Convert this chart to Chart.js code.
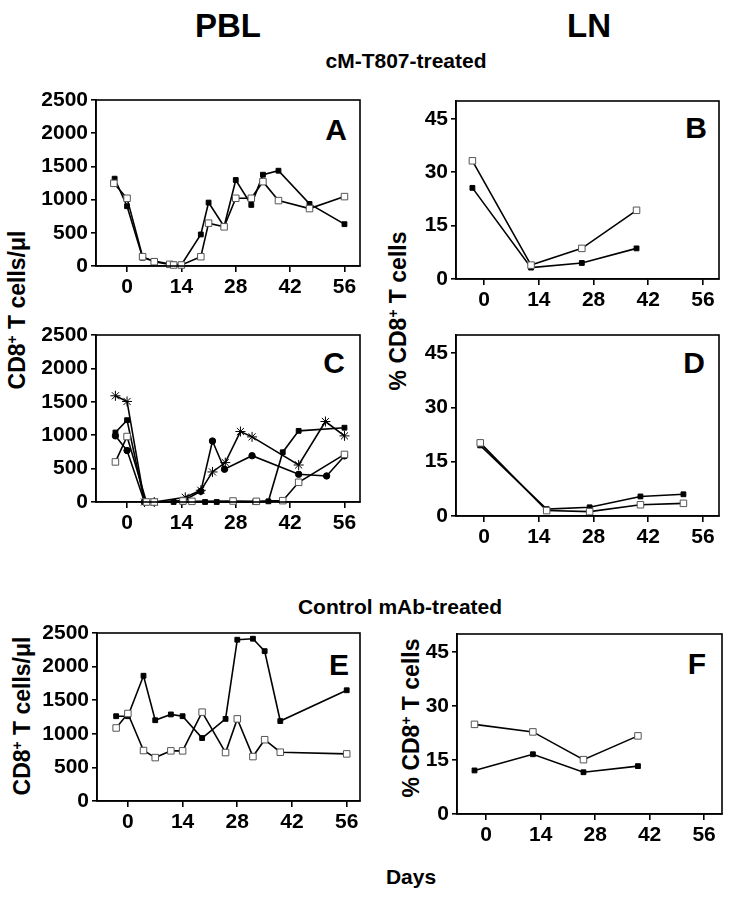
<!DOCTYPE html>
<html>
<head>
<meta charset="utf-8">
<script src="https://cdn.jsdelivr.net/npm/chart.js@4/dist/chart.umd.min.js"></script>
<style>
  html, body { margin:0; padding:0; background:#fff; }
  #page { position:relative; width:729px; height:900px; overflow:hidden; background:#fff; font-family:"Liberation Sans", Arial, sans-serif; color:#000; }
  canvas { position:absolute; }
  .t { position:absolute; font-weight:bold; white-space:nowrap; line-height:1; }
  .c { transform:translate(-50%,-50%); }
  .r { transform:translate(-50%,-50%) rotate(-90deg); }
  sup { font-size:0.6em; vertical-align:0.55em; line-height:0; }
</style>
</head>
<body>
<div id="page">
  <div class="t c" style="left:228px;top:25px;font-size:33px;">PBL</div>
  <div class="t c" style="left:589px;top:25px;font-size:33px;">LN</div>
  <div class="t c" style="left:406px;top:60px;font-size:21px;">cM-T807-treated</div>
  <div class="t c" style="left:400px;top:606px;font-size:21px;">Control mAb-treated</div>
  <div class="t c" style="left:411px;top:876px;font-size:21px;">Days</div>
  <div class="t r" style="left:17px;top:310px;font-size:23px;">CD8<sup>+</sup> T cells/μl</div>
  <div class="t r" style="left:398px;top:311px;font-size:23px;">% CD8<sup>+</sup> T cells</div>
  <div class="t r" style="left:22px;top:716px;font-size:23px;">CD8<sup>+</sup> T cells/μl</div>
  <div class="t r" style="left:411px;top:718px;font-size:23px;">% CD8<sup>+</sup> T cells</div>
  <div class="t c" style="left:336px;top:130px;font-size:30px;">A</div>
  <div class="t c" style="left:696px;top:128px;font-size:30px;">B</div>
  <div class="t c" style="left:334px;top:363px;font-size:30px;">C</div>
  <div class="t c" style="left:694px;top:363px;font-size:30px;">D</div>
  <div class="t c" style="left:339px;top:665px;font-size:30px;">E</div>
  <div class="t c" style="left:697px;top:664px;font-size:30px;">F</div>
</div>
<script>
// ---- tick labels ----
const xTickVals = [0, 14, 28, 42, 56];
const cellTicks = [0, 500, 1000, 1500, 2000, 2500];
const pctTicks = [0, 15, 30, 45];

// ---- Panel A (PBL, cM-T807) ----
const aFilledDays = [-3.2, 0, 4, 7, 11, 12, 14, 19, 21, 25, 28, 32, 35, 39, 47, 56];
const aFilledVals = [1315, 900, 125, 75, 30, 20, 20, 475, 955, 595, 1295, 920, 1375, 1435, 935, 630];
const aOpenDays = [-3.4, 0, 4, 7, 11, 12, 14, 19, 21, 25, 28, 32, 35, 39, 47, 56];
const aOpenVals = [1245, 1020, 140, 65, 25, 15, 15, 140, 645, 590, 1020, 1020, 1270, 985, 865, 1045];

// ---- Panel B (LN, cM-T807) ----
const bDays = [-3, 12, 25, 39];
const bOpenVals = [33.2, 3.9, 8.6, 19.3];
const bFilledVals = [25.6, 3.2, 4.5, 8.6];

// ---- Panel C (PBL, cM-T807) ----
const cStarDays = [-3, 0, 4.5, 7, 15, 19, 22, 25.3, 29.2, 32.2, 44.2, 51.1, 56];
const cStarVals = [1590, 1505, 0, 0, 70, 175, 450, 590, 1055, 975, 554, 1205, 990];
const cFilledDays = [-3, 0, 4.5, 7, 12, 14.4, 20.1, 23.1, 33, 36.4, 40.1, 44.2, 56];
const cFilledVals = [1040, 1225, 0, 0, 0, 0, 0, 0, 0, 10, 745, 1065, 1112];
const cCircleDays = [-3, 0, 4.5, 7, 14.5, 19, 22, 25.1, 32.2, 44.2, 51.4, 56];
const cCircleVals = [990, 770, 0, 0, 20, 160, 913, 490, 693, 415, 390, 690];
const cOpenDays = [-3, 0, 5, 7, 14.4, 16.7, 27.3, 33.3, 40.1, 44.2, 56];
const cOpenVals = [600, 980, 0, 0, 15, 10, 15, 10, 20, 295, 712];

// ---- Panel D (LN, cM-T807) ----
const dDays = [-1, 16, 27, 40, 51];
const dOpenVals = [20.2, 1.5, 1.2, 3.1, 3.5];
const dFilledVals = [19.5, 1.9, 2.4, 5.4, 6.0];

// ---- Panel E (PBL, control) ----
const eDays = [-3, 0, 4, 7, 11, 14, 19, 25, 28, 32, 35, 39, 56];
const eFilledVals = [1262, 1262, 1864, 1202, 1288, 1262, 937, 1222, 2400, 2415, 2230, 1190, 1648];
const eOpenVals = [1087, 1302, 751, 646, 746, 746, 1322, 721, 1222, 661, 912, 726, 701];

// ---- Panel F (LN, control) ----
const fDays = [-3, 12, 25, 39];
const fOpenVals = [24.9, 22.8, 15.1, 21.7];
const fFilledVals = [12.1, 16.6, 11.6, 13.3];

const FONT = '"Liberation Sans", Arial, sans-serif';

function pts(xs, ys) { return xs.map((x, i) => ({ x: x, y: ys[i] })); }

function series(xs, ys, kind) {
  const base = { data: pts(xs, ys), borderColor: '#000', borderWidth: 1.6, clip: false, tension: 0 };
  if (kind === 'filled') return Object.assign(base, { pointStyle: 'rect', pointRadius: 3.4, pointBackgroundColor: '#000', pointBorderColor: '#000', pointBorderWidth: 1 });
  if (kind === 'open') return Object.assign(base, { pointStyle: 'rect', pointRadius: 4.6, pointBackgroundColor: '#fff', pointBorderColor: '#555', pointBorderWidth: 1 });
  if (kind === 'circle') return Object.assign(base, { pointStyle: 'circle', pointRadius: 3.2, pointBackgroundColor: '#000', pointBorderColor: '#000', pointBorderWidth: 1 });
  if (kind === 'star') return Object.assign(base, { pointStyle: 'star', pointRadius: 5, pointBackgroundColor: '#000', pointBorderColor: '#000', pointBorderWidth: 1 });
  return base;
}

const boxPlugin = {
  id: 'box',
  afterDraw(chart) {
    const a = chart.chartArea, ctx = chart.ctx;
    ctx.save();
    ctx.strokeStyle = '#000';
    ctx.lineWidth = 1.6;
    ctx.strokeRect(a.left, a.top, a.right - a.left, a.bottom - a.top);
    ctx.restore();
  }
};

function panel(box, area, xMin, xMax, yTicks, yMax, datasets) {
  const cv = document.createElement('canvas');
  cv.width = box.w; cv.height = box.h;
  cv.style.left = box.x + 'px'; cv.style.top = box.y + 'px';
  document.getElementById('page').appendChild(cv);
  const tickFont = { family: FONT, size: 21, weight: 'bold' };
  new Chart(cv.getContext('2d'), {
    type: 'line',
    data: { datasets: datasets },
    plugins: [boxPlugin],
    options: {
      responsive: false, animation: false, devicePixelRatio: 1,
      layout: { padding: { top: area.t - box.y, right: box.x + box.w - area.r, left: 0, bottom: 0 } },
      plugins: { legend: { display: false }, tooltip: { enabled: false } },
      scales: {
        x: {
          type: 'linear', min: xMin, max: xMax,
          afterBuildTicks: s => { s.ticks = xTickVals.map(v => ({ value: v })); },
          afterFit: s => { s.height = box.y + box.h - area.b; },
          grid: { drawOnChartArea: false, drawTicks: true, tickLength: 6, color: '#000', lineWidth: 1.6 },
          border: { color: '#000', width: 1.6 },
          ticks: { color: '#000', font: tickFont, padding: 3, maxRotation: 0, autoSkip: false, callback: v => String(v) }
        },
        y: {
          type: 'linear', min: 0, max: yMax,
          afterBuildTicks: s => { s.ticks = yTicks.map(v => ({ value: v })); },
          afterFit: s => { s.width = area.l - box.x; },
          grid: { drawOnChartArea: false, drawTicks: true, tickLength: 5, color: '#000', lineWidth: 1.6 },
          border: { color: '#000', width: 1.6 },
          ticks: { color: '#000', font: tickFont, padding: 3, autoSkip: false, callback: v => String(v) }
        }
      }
    }
  });
}

// A
panel({ x: 0, y: 80, w: 372, h: 230 }, { l: 96, r: 360, t: 100, b: 266 }, -8, 60, cellTicks, 2500,
  [series(aOpenDays, aOpenVals, 'open'), series(aFilledDays, aFilledVals, 'filled')]);
// B
panel({ x: 372, y: 80, w: 357, h: 240 }, { l: 456, r: 719, t: 101, b: 279 }, -7.2, 60.1, pctTicks, 50,
  [series(bDays, bOpenVals, 'open'), series(bDays, bFilledVals, 'filled')]);
// C
panel({ x: 0, y: 315, w: 372, h: 230 }, { l: 96, r: 360, t: 335, b: 502 }, -8, 60, cellTicks, 2500,
  [series(cOpenDays, cOpenVals, 'open'), series(cCircleDays, cCircleVals, 'circle'),
   series(cFilledDays, cFilledVals, 'filled'), series(cStarDays, cStarVals, 'star')]);
// D
panel({ x: 372, y: 315, w: 357, h: 245 }, { l: 456, r: 719, t: 335, b: 516 }, -7.2, 60.1, pctTicks, 50,
  [series(dDays, dOpenVals, 'open'), series(dDays, dFilledVals, 'filled')]);
// E
panel({ x: 0, y: 613, w: 372, h: 227 }, { l: 97, r: 360, t: 633, b: 801 }, -7.9, 59.4, cellTicks, 2500,
  [series(eDays, eOpenVals, 'open'), series(eDays, eFilledVals, 'filled')]);
// F
panel({ x: 372, y: 614, w: 357, h: 236 }, { l: 457, r: 722, t: 634, b: 814 }, -7.5, 60.6, pctTicks, 50,
  [series(fDays, fOpenVals, 'open'), series(fDays, fFilledVals, 'filled')]);
</script>
</body>
</html>
